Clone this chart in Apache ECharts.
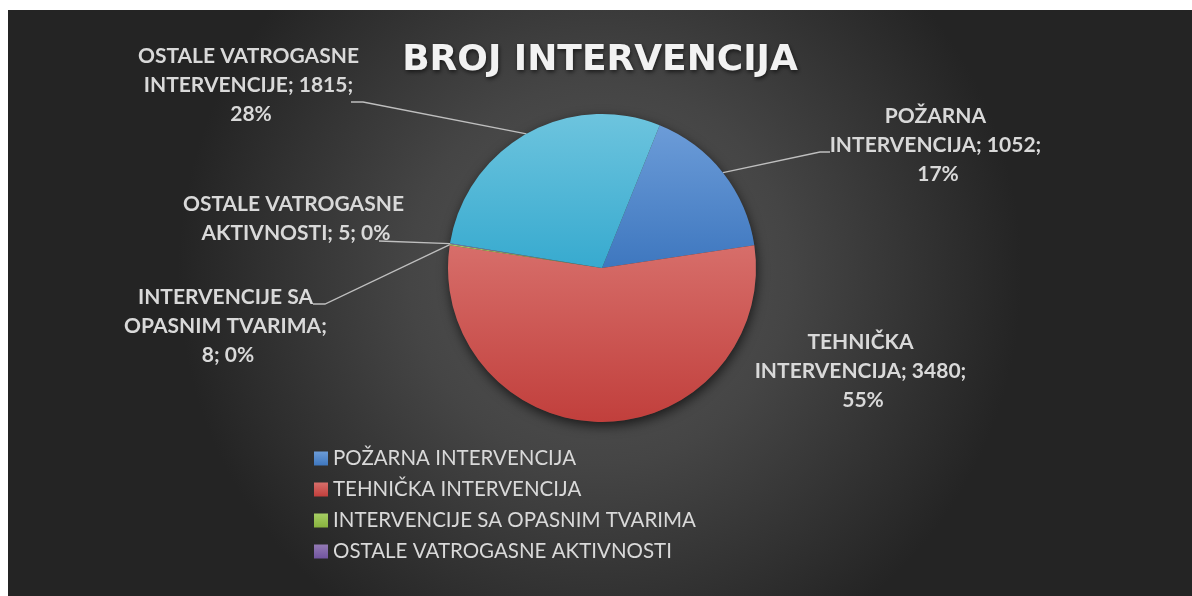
<!DOCTYPE html>
<html>
<head>
<meta charset="utf-8">
<script src="https://cdn.jsdelivr.net/npm/echarts@6/dist/echarts.min.js"></script>
<style>
  html, body { margin: 0; padding: 0; background: #ffffff; }
  #chart { position: absolute; left: 8px; top: 10px; width: 1184px; height: 586px; }
</style>
</head>
<body>
<div id="chart"></div>
<script>
// Intervention counts by type
const categories = [
  'POŽARNA INTERVENCIJA',
  'TEHNIČKA INTERVENCIJA',
  'INTERVENCIJE SA OPASNIM TVARIMA',
  'OSTALE VATROGASNE AKTIVNOSTI',
  'OSTALE VATROGASNE INTERVENCIJE'
];
const values = [1052, 3480, 8, 5, 1815];
const legendItems = categories.slice(0, 4);
const titleText = 'BROJ INTERVENCIJA';

// Slice fills: [top, bottom] of a vertical gradient
const sliceColors = [
  ['#6c9cd8', '#3e77bf'],
  ['#d76e6a', '#c13f3c'],
  ['#a6ce64', '#88b23e'],
  ['#937ab5', '#71549f'],
  ['#6dc4de', '#37aacf']
];

// Label anchors (chart pixels), wrap widths and leader-line bends
const labelPlacement = {
  'POŽARNA INTERVENCIJA':            { x: 930, y: 135,   width: 232, line: [[812, 142], [822, 142]] },
  'TEHNIČKA INTERVENCIJA':           { x: 855, y: 361.5, width: 232, line: null },
  'INTERVENCIJE SA OPASNIM TVARIMA': { x: 220, y: 316,   width: 216, line: [[317, 294], [305, 294]] },
  'OSTALE VATROGASNE AKTIVNOSTI':    { x: 288, y: 208.5, width: 232, line: [[371, 231]] },
  'OSTALE VATROGASNE INTERVENCIJE':  { x: 243, y: 75.5,  width: 232, line: [[355, 92], [343, 92]] }
};

const grad = (c) => new echarts.graphic.LinearGradient(0, 0, 0, 1, [
  { offset: 0, color: c[0] }, { offset: 1, color: c[1] }
]);

const total = values.reduce((a, b) => a + b, 0);

const pieData = categories.map((name, i) => ({
  name,
  value: values[i],
  itemStyle: { color: grad(sliceColors[i]) },
  label: { width: labelPlacement[name].width },
  labelLine: { show: !!labelPlacement[name].line }
}));

const chart = echarts.init(document.getElementById('chart'), null, { renderer: 'canvas' });

chart.setOption({
  backgroundColor: new echarts.graphic.RadialGradient(0.5, 0.45, 0.72, [
    { offset: 0, color: '#565656' },
    { offset: 0.45, color: '#454545' },
    { offset: 1, color: '#242424' }
  ]),
  animation: false,
  title: {
    text: titleText,
    left: 'center',
    top: 28,
    textStyle: {
      fontFamily: 'DejaVu Sans',
      fontWeight: 'bold',
      fontSize: 36,
      color: '#f2f2f2',
      textShadowColor: 'rgba(0,0,0,0.6)',
      textShadowBlur: 4,
      textShadowOffsetX: 1,
      textShadowOffsetY: 2
    }
  },
  legend: {
    data: legendItems,
    orient: 'vertical',
    left: 306,
    top: 438,
    padding: 0,
    itemWidth: 14,
    itemHeight: 14,
    itemGap: 10,
    icon: 'rect',
    textStyle: {
      fontFamily: 'Lato',
      fontSize: 20.5,
      color: '#d9d9d9'
    }
  },
  series: [
    {
      // soft drop shadow under the whole pie
      type: 'pie',
      center: [594, 258],
      radius: 154,
      silent: true,
      z: 1,
      label: { show: false },
      labelLine: { show: false },
      itemStyle: {
        color: '#3a3a3a',
        shadowColor: 'rgba(0,0,0,0.65)',
        shadowBlur: 12,
        shadowOffsetY: 4,
        shadowOffsetX: 1
      },
      data: [{ name: '', value: total }]
    },
    {
      type: 'pie',
      center: [594, 258],
      radius: 154,
      startAngle: 68,
      clockwise: true,
      avoidLabelOverlap: false,
      percentPrecision: 0,
      z: 2,
      data: pieData,
      itemStyle: { borderWidth: 0 },
      label: {
        show: true,
        position: 'outside',
        formatter: '{b}; {c}; {d}%',
        overflow: 'break',
        fontFamily: 'Lato',
        fontWeight: 'bold',
        fontSize: 21,
        lineHeight: 29,
        color: '#d9d9d9',
        align: 'center'
      },
      labelLine: {
        show: true,
        lineStyle: { color: '#bfbfbf', width: 1.3 }
      },
      labelLayout: function (params) {
        const name = categories[params.dataIndex];
        const p = labelPlacement[name];
        const out = { x: p.x, y: p.y, align: 'center', verticalAlign: 'middle' };
        if (p.line && params.labelLinePoints) {
          out.labelLinePoints = [params.labelLinePoints[0]].concat(p.line);
        }
        return out;
      }
    }
  ]
});
</script>
</body>
</html>
